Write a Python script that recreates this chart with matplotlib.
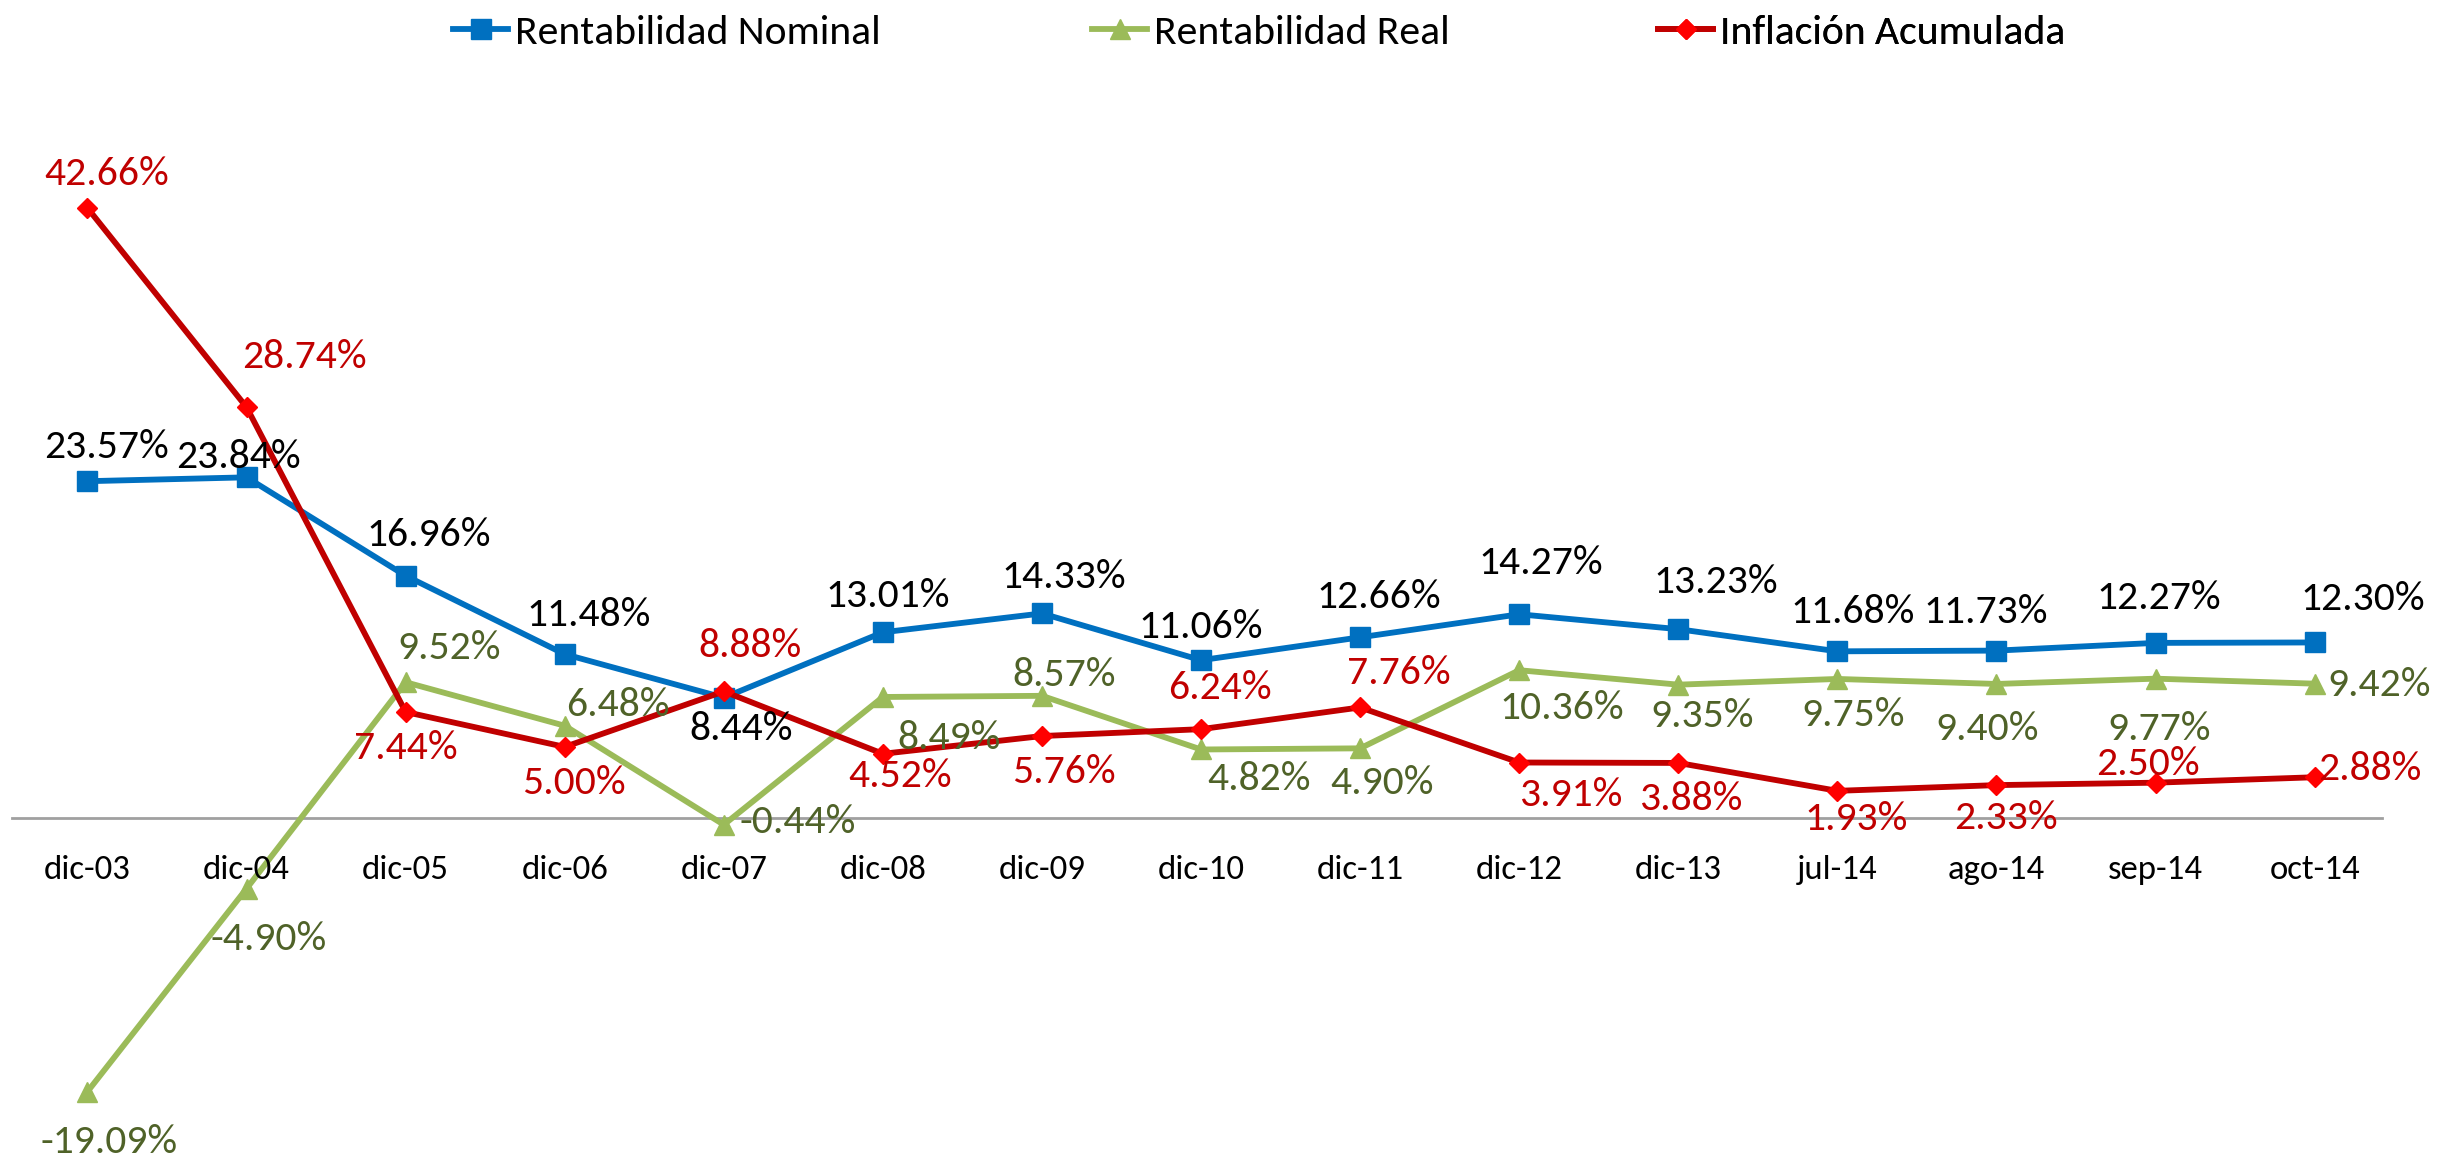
import matplotlib
matplotlib.use("Agg")
import matplotlib.pyplot as plt

plt.rcParams['font.family'] = ['Carlito', 'DejaVu Sans']

categorias = ["dic-03", "dic-04", "dic-05", "dic-06", "dic-07", "dic-08", "dic-09",
              "dic-10", "dic-11", "dic-12", "dic-13", "jul-14", "ago-14", "sep-14", "oct-14"]
nominal = [23.57, 23.84, 16.96, 11.48, 8.44, 13.01, 14.33, 11.06, 12.66, 14.27,
           13.23, 11.68, 11.73, 12.27, 12.30]
real = [-19.09, -4.90, 9.52, 6.48, -0.44, 8.49, 8.57, 4.82, 4.90, 10.36,
        9.35, 9.75, 9.40, 9.77, 9.42]
inflacion = [42.66, 28.74, 7.44, 5.00, 8.88, 4.52, 5.76, 6.24, 7.76, 3.91,
             3.88, 1.93, 2.33, 2.50, 2.88]

# label offsets (px in the small preview, y down)
off_nom = [(12, -22), (-5, -13), (15, -26), (15, -25), (11, 20), (3, -23), (14, -23), (0, -21),
           (12, -26), (14, -33), (24, -30), (10, -25), (-7, -25), (2, -29), (31, -28)]
off_real = [(14, 32), (14, 32), (28, -22), (34, -13), (47, -2), (42, 26), (14, -13), (37, 19),
            (14, 22), (27, 24), (15, 20), (10, 23), (-6, 29), (2, 32), (41, 1)]
off_inf = [(12, -22), (37, -32), (0, 23), (6, 23), (17, -29), (11, 14), (14, 23), (12, -26),
           (25, -22), (33, 21), (8, 23), (12, 18), (6, 21), (-5, -12), (35, -5)]

fig = plt.figure(figsize=(24.53, 11.59), dpi=100)
ax = fig.add_axes([0, 0, 1, 1])
x = list(range(len(categorias)))

fs = 30
l1, = ax.plot(x, nominal, color="#0070C0", lw=4.2, marker="s", ms=14, label="Rentabilidad Nominal", zorder=3)
l2, = ax.plot(x, real, color="#9BBB59", lw=4.2, marker="^", ms=14, label="Rentabilidad Real", zorder=3)
l3, = ax.plot(x, inflacion, color="#C00000", lw=4.2, marker="D", ms=10, mfc="#FF0000", mec="#FF0000",
              label="Inflación Acumulada", zorder=4)

k = 1.5645 * 0.72
for vals, offs, col in [(nominal, off_nom, "black"), (real, off_real, "#4F6228"),
                        (inflacion, off_inf, "#C00000")]:
    for i, v in enumerate(vals):
        dx, dy = offs[i]
        ax.annotate(f"{v:.2f}%", (i, v), xytext=(dx * k, -dy * k), textcoords="offset points",
                    ha="center", va="center", fontsize=fs, color=col, zorder=5)

for i, c in enumerate(categorias):
    ax.annotate(c, (i, 0), xytext=(0, -33 * k), textcoords="offset points",
                ha="center", va="center", fontsize=25, color="black")

ax.axhline(0, xmin=0.005, xmax=0.971, color="#A0A0A0", lw=2, zorder=1)

ax.set_xlim(-0.55, 14.87)
ax.set_ylim(-23.8, 57.2)
ax.axis("off")

# one legend per entry so each sits where it does in the original
for h, xpos in [(l1, 0.1847), (l2, 0.4452), (l3, 0.6759)]:
    leg = ax.legend(handles=[h], loc="center left", bbox_to_anchor=(xpos, 0.972),
                    bbox_transform=fig.transFigure, frameon=False, fontsize=fs,
                    handlelength=1.33, handletextpad=0.15, borderpad=0, borderaxespad=0)
    ax.add_artist(leg)

fig.savefig("out.png", dpi=100)
